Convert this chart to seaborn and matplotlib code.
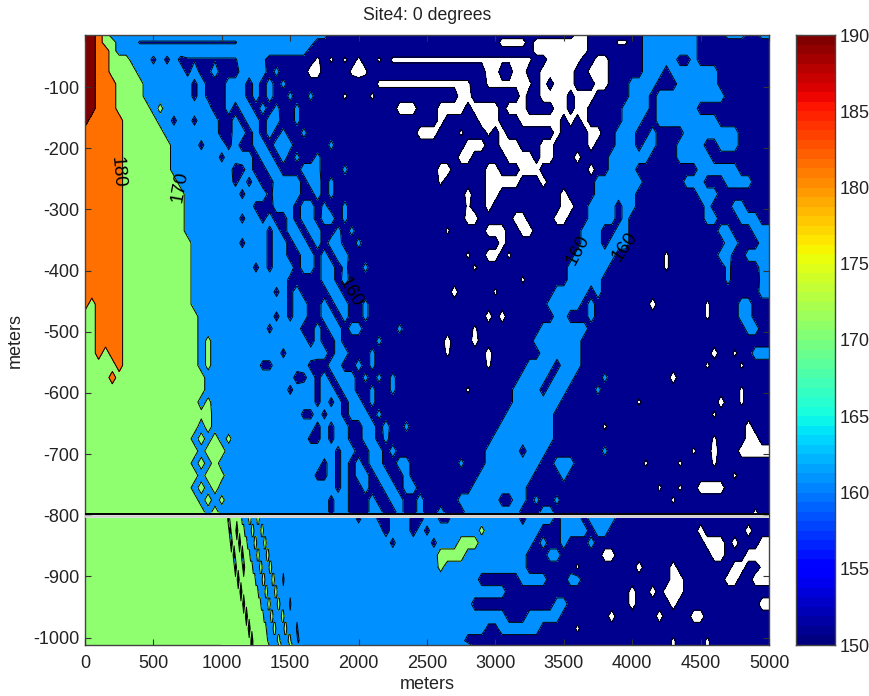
import numpy as np
import matplotlib
matplotlib.use("Agg")
import matplotlib.pyplot as plt
import seaborn as sns

# field, one char per 50 m, groups of 500 m
# 0 below 150, 1 150-160, 2 160-170, 3 170-180, 4 180-190, 5 above 190
# a, t, x, c, w are the small spots of one level inside another
code_values = {"0": 145, "1": 155, "2": 165, "3": 175, "4": 185, "5": 195,
               "a": 157, "t": 159, "x": 163, "c": 173, "w": 148}

upper_rows = [
    "5543222222 2222222222 2222222222 2222221111 1111111111 1111111111 1111111111 1100111111 1122222222 1111222112",
    "55433222tt tttttttttt ttt2222222 2222111111 1111111111 1111111111 1000010000 00001111ww 1122222222 1111111111",
    "5544322222 2222222222 2222222222 2221111111 1111111111 1111111111 1111110000 0000111111 1122222222 1111111111",
    "5544333222 a2a2attttt ttt222x111 1111w1w1w1 w11w1wwwww wwwwwwwwww wwwwww1100 0001100111 1122222112 1111111111",
    "5544333322 22222a2aa2 11122221x1 111001111w 0w11111111 1111111110 0110011000 0011000111 1122212222 2221111111",
    "5544433332 222222a2a1 122212121x 1111111111 111wwwwwww wwwwwww11w wwwwww1010 0011100111 2222111222 2221111111",
    "5544433332 222222a2a1 1222121211 x11x1111w1 11w1111111 1111100111 1111011000 0100011111 2221222222 2222111111",
    "5544433333 2c22222221 12122121x1 1x11111111 1111110001 1100001000 0100011110 0100111112 2221222222 1111111111",
    "5444443333 322a22a222 1121221221 1x11111111 1111111111 1101111100 0111000000 1010111112 2211222222 2221111111",
    "4444443333 3322222222 112212121x 11x1111111 1111111110 00111w111w 1011111110 1111001122 2112111122 2222221111",
    "4444443333 3332222a22 2a21122122 x11111x111 1111111111 1111110001 1000111001 1111011122 2122111222 2112221111",
    "4444443333 3332222222 a222212212 1x11x11111 1111111111 1111100111 1100001001 1101111222 2221111222 2211111111",
    "4444443333 3332222222 221a211221 1122x111x1 1111111111 1100111110 0111000111 1111011222 2111111111 2222221111",
    "4444443333 3333222222 22a2a21122 221221x111 1111111111 11w1111110 0000111011 1111122222 2211111122 2111222211",
    "4444443333 3333322222 222a222a22 221121x111 1111111111 1111110110 0111111111 0111122222 2111111111 2221111111",
    "4444443333 3333322222 22222aa122 21221x11x1 1111111111 111111w110 1111111111 0011222212 2111111111 1211122111",
    "4444443333 3333322222 222a22a211 21221221x1 1111111111 1111110011 1110011110 0111222212 1111111111 1221112221",
    "4444443333 3333322222 2222222a21 2212211x1x 1111111111 111w111110 0011001111 1112221122 1111111111 1112211122",
    "4444443333 3333332222 222a222a22 1221212211 x111111111 1111111111 1011111111 1112221222 1111111111 1111221112",
    "4444443333 3333332222 2222222a22 1122121221 1111111111 111111w110 01w1111111 1122222211 11111w1111 1112211222",
    "4444443333 3333332222 22222a2a22 21221221x1 1x11111111 1111111w11 1111111111 1222222111 11111w1111 1111x11112",
    "4444443333 3333332222 2222222222 a111122121 1111111111 1111111111 1111w11111 1222221111 1111111111 1111x1111x",
    "4444443333 3333332222 22222222a2 a211112211 1111111111 1111011111 w111111112 2222121111 1111111111 1111111112",
    "4344443333 3333332222 2222222222 a221121221 1x11111111 1111111111 1111111122 2221211111 1110111111 1w11112211",
    "3344443333 3333333222 22222222a2 a221122121 1x11111111 1111111110 1011111112 2111211111 1111111111 1w11112211",
    "3344443333 3333333222 2222222a22 2211212212 211111x111 1111111w11 1111111222 2222111111 1111111111 1111111221",
    "3344443333 33333332c2 2222222222 2221211211 111x111111 1110111011 1111112222 2221111111 1111111111 1111111111",
    "3343443333 33333332c2 222222222a 2222221221 11x1111111 111w111110 1111111222 2221111111 1111111111 11011w1122",
    "3333343333 33333332c2 222222aa22 222a112211 21x1111111 111111111w 1111122221 2221111111 1111111111 1w1111w111",
    "3333433333 3333333322 2222222222 21a2a21222 1x1x1x1111 1111111111 1111222212 221111x111 1111110111 1111111111",
    "3333333333 3333333322 2222222222 a222a22122 11x11x1111 111111w111 1112222122 21111x1111 1111111111 111111w111",
    "3333333333 33333332c2 2222222222 2222a2a212 21x1111111 1111111111 1112222222 1111111111 1w11111111 111011w111",
    "3333333333 3333333c32 2222222222 22aa2a2212 221x111111 1111111111 1122222221 1111111111 1111111111 11w1111111",
    "3333333333 3333333232 2222222222 2222a2a221 1221211x11 1111111111 1222222221 111111w111 1111111111 1111111011",
    "3333333333 3333332323 2c22222222 222aa2a221 1221x11111 1111111111 2222222221 1111111111 1111111111 11w1111001",
    "3333333333 3333333233 3222222222 2222222a22 1122121111 1111111112 2222122211 111111x111 111111111w 1101110000",
    "3333333333 3333332323 2222222222 22222a2a21 2122112211 11111x1112 2222222112 2211111111 11w1111w11 11w1111111",
    "3333333333 3333333233 c222222222 2222aa2a21 2212211211 1111111122 2222221111 2111111111 1111111111 11111w1111",
    "3333333333 3333332323 2222222222 2222222a21 1211221221 1111111222 2222211111 1111111111 1111w11w11 0000111111",
    "3333333333 3333333232 c222222222 222222a221 1121122112 1111122222 211221x11x 1111111111 111111w111 1111111111",
    "3333333333 3333333323 2222222222 222222a221 1122112112 1121112222 2222111221 1111111111 1111111111 11111111w1",
]

lower_rows = [
    "3333333333 3333333333 3322222222 2222222222 a22a122211 22aa222222 2222122221 2221222211 1111111111 1111111111",
    "3333333333 3333333333 3322222222 2222222222 2222122212 a2222222c2 2222222111 2222122111 1111111111 0111111011",
    "3333333333 3333333333 3322222222 2222222222 22222a2222 2a22233322 2222221211 2111211111 1111111111 1000101110",
    "3333333333 3333333333 3322222222 2222222222 2222222222 2233332222 2222211122 1111110011 1111111111 1100111000",
    "3333333333 3333333333 3322222222 2222222222 2222222222 22c2222222 2222211111 11w1111111 1011110111 111110011w",
    "3333333333 3333333333 3322222222 2222222222 2222222222 2222222211 1111222211 1221111111 1111110011 1111001100",
    "3333333333 3333333333 3322222222 2222222222 2222222222 2222222222 2211111111 1111111111 0110100011 1111111111",
    "3333333333 3333333333 3322222222 2222222222 2222222222 2222222111 1111111112 2111111111 0111110111 1111111110",
    "3333333333 3333333333 3322222222 2222222222 2222222222 2222222222 2211122222 1111111011 1111011110 0111111111",
    "3333333333 3333333333 3322222222 2222222222 2222222222 222222222a a222222111 11w1111111 1111111111 1111111111",
    "3333333333 3333333333 3322222222 2222222222 2222222222 2222221111 1111111111 1111111111 111111w111 1w11111111",
    "3333333333 3333333333 3322222222 2222222222 2222222222 2222222111 1111111111 1111111111 111111w111 1w11111111",
]

# thin stripes below -800, one char per 10 m from x = 1000
stripe_rows = [
    "3333313333 3333322222 3322223322 2222222222 2222222222 2222222222",
    "3333331333 3133333222 2233222223 3222222222 2222222222 2222222222",
    "3333333133 3331333332 2222332222 2332222222 2222222222 2222222222",
    "3333333331 3333313333 3222223322 2223322222 2222222222 2222222222",
    "3333333333 1333331333 3332222233 2222233222 2222222222 2222222222",
    "3333333333 3313333333 3333322222 3322222332 2222212222 2222222222",
    "3333333333 3333133333 3333333222 2233222223 3222222222 2222222222",
    "3333333333 3333331333 3333333332 2222332222 2332222222 1222222222",
    "3333333333 3333333313 3333333333 3222223322 2222332222 2222222222",
    "3333333333 3333333333 1333333333 3332222233 2222223322 2222212222",
    "3333333333 3333333333 3313333333 3333222222 2332222223 3222221222",
    "3333333333 3333333333 3313333333 3333322222 2233222222 3322222222",
]

upper_depths = [-15, -27, -41, -55, -75, -95, -115, -135, -155, -175, -195,
                -215, -235, -255, -275, -295, -315, -335, -355, -375, -395,
                -415, -435, -455, -475, -495, -515, -535, -555, -575, -595,
                -615, -635, -655, -675, -695, -715, -735, -755, -775, -795]
lower_depths = [-805, -825, -845, -865, -885, -905, -925, -945, -965, -985, -1005, -1012]

levels = [150, 160, 170, 180, 190, 200]
level_colors = ["#00008f", "#0090ff", "#8fff70", "#ff7000", "#800000"]
x_ticks = [0, 500, 1000, 1500, 2000, 2500, 3000, 3500, 4000, 4500, 5000]
y_ticks = [-100, -200, -300, -400, -500, -600, -700, -800, -900, -1000]
bar_ticks = [150, 155, 160, 165, 170, 175, 180, 185, 190]
contour_labels = [("180", 241, -240, -85), ("170", 694, -263, 80), ("160", 1937, -435, -60),
                  ("160", 3604, -366, 62), ("160", 3947, -361, 55)]


def rows_to_grid(rows, n_cols):
    grid = []
    for row in rows:
        chars = row.replace(" ", "").ljust(n_cols, "1")[:n_cols]
        grid.append([code_values[c] for c in chars])
    return np.array(grid)


def draw_field(ax, xs, ys, rows, z):
    grid = rows_to_grid(rows, len(xs))
    ax.contourf(xs, ys, grid, levels=levels, colors=level_colors, zorder=z)
    ax.contour(xs, ys, grid, levels=levels[:-1], colors="black", linewidths=0.7, zorder=z + 0.5)


sns.set_theme(style="white")
plt.rcParams["font.family"] = ["Liberation Sans", "DejaVu Sans"]
plt.rcParams["axes.linewidth"] = 1.0
plt.rcParams["axes.edgecolor"] = "#444444"

W, H = 870, 696
fig = plt.figure(figsize=(W / 100, H / 100), dpi=100)
ax = fig.add_axes([85 / W, 1 - 645 / H, 684 / W, 610 / H])
ax.set_facecolor("white")

x_main = np.arange(0, 5001, 50)
draw_field(ax, x_main, upper_depths, [r + r[-1] for r in upper_rows], 1)
draw_field(ax, x_main, lower_depths, [r + r[-1] for r in lower_rows], 2)
draw_field(ax, np.arange(1000, 1600, 10), lower_depths, stripe_rows, 3)

# the seam at -800
ax.axhline(-797.5, color="black", lw=1.4, zorder=5)
ax.axhline(-801.5, color="#d0d0d0", lw=1.8, zorder=5)

for txt, lx, ly, rot in contour_labels:
    ax.text(lx, ly, txt, rotation=rot, ha="center", va="center", fontsize=13.5, color="black", zorder=6)

ax.set_xlim(0, 5000)
ax.set_ylim(-1012, -15)
ax.set_xticks(x_ticks)
ax.set_xticklabels([str(t) for t in x_ticks])
ax.set_yticks(y_ticks)
ax.set_yticklabels([str(t) for t in y_ticks])
ax.tick_params(direction="in", length=4, width=0.8, top=True, right=True, bottom=True, left=True,
               labelsize=13, color="#333333", pad=4, labelcolor="#222222")
ax.tick_params(axis="x", pad=7)
ax.set_xlabel("meters", fontsize=13, color="#222222", labelpad=3)
ax.set_ylabel("meters", fontsize=13, color="#222222", labelpad=7)
ax.set_title("Site4: 0 degrees", fontsize=12.7, color="#222222", pad=11)
ax.set_axisbelow(False)

# colour scale, 64 steps like the original
cax = fig.add_axes([796 / W, 1 - 645 / H, 39 / W, 610 / H])
jet = plt.get_cmap("jet", 64)
scale = np.linspace(190, 150, 64).reshape(-1, 1)
sns.heatmap(scale, ax=cax, cmap=jet, vmin=150, vmax=190, cbar=False, xticklabels=False, yticklabels=False)
cax.set_yticks([(190 - t) / 40 * 64 for t in bar_ticks])
cax.set_yticklabels([str(t) for t in bar_ticks])
cax.yaxis.tick_right()
cax.tick_params(axis="y", direction="in", length=4, width=0.8, left=True, right=True, labelleft=False,
                labelright=True, labelsize=13, labelrotation=0, color="#333333", labelcolor="#222222", pad=3)
for s in cax.spines.values():
    s.set_visible(True)
    s.set_edgecolor("#444444")

fig.savefig("out.png", dpi=100)
